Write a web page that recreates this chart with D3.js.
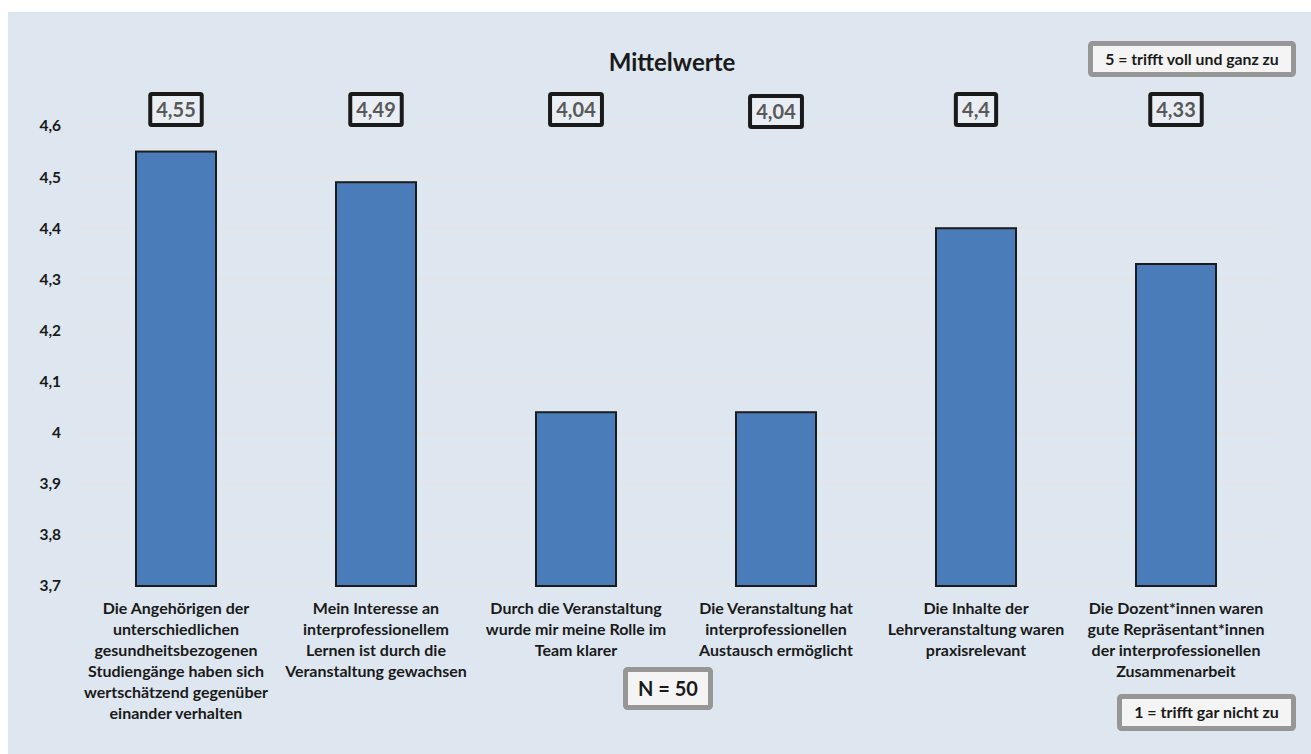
<!DOCTYPE html>
<html><head><meta charset="utf-8">
<script src="https://cdn.jsdelivr.net/npm/d3@7"></script>
<style>
html,body{margin:0;padding:0;background:#fff;}
svg{display:block;font-family:Lato,"Open Sans",sans-serif;}
</style></head>
<body>
<svg id="c" width="1311" height="754"></svg>
<script>
const categories = [
  ["Die Angehörigen der","unterschiedlichen","gesundheitsbezogenen","Studiengänge haben sich","wertschätzend gegenüber","einander verhalten"],
  ["Mein Interesse an","interprofessionellem","Lernen ist durch die","Veranstaltung gewachsen"],
  ["Durch die Veranstaltung","wurde mir meine Rolle im","Team klarer"],
  ["Die Veranstaltung hat","interprofessionellen","Austausch ermöglicht"],
  ["Die Inhalte der","Lehrveranstaltung waren","praxisrelevant"],
  ["Die Dozent*innen waren","gute Repräsentant*innen","der interprofessionellen","Zusammenarbeit"]
];
const values = [4.55, 4.49, 4.04, 4.04, 4.4, 4.33];
const yTicks = [3.7, 3.8, 3.9, 4.0, 4.1, 4.2, 4.3, 4.4, 4.5, 4.6];
const title = "Mittelwerte";
const noteTop = "5 = trifft voll und ganz zu";
const noteBottom = "1 = trifft gar nicht zu";
const noteN = "N = 50";

const de = d3.formatLocale({decimal:",", thousands:".", grouping:[3], currency:["","€"]});
const fmt = de.format("~r");

const svg = d3.select("#c");
svg.append("rect").attr("x",8).attr("y",12).attr("width",1303).attr("height",742).attr("fill","#dee7f0");

const idx = categories.map((d,i)=>i);
const x = d3.scaleBand().domain(idx).range([76,1276]).paddingInner(0.6).paddingOuter(0.3);
const y = d3.scaleLinear().domain([3.7,4.6]).range([586,126]);

// gridlines
svg.append("g").selectAll("line").data(yTicks).join("line")
  .attr("x1",76).attr("x2",1276)
  .attr("y1",d=>y(d)).attr("y2",d=>y(d))
  .attr("stroke","#e4e4e4").attr("stroke-width",1.5);

// y axis
const yAxis = d3.axisLeft(y).tickValues(yTicks).tickFormat(fmt).tickSize(0).tickPadding(0);
const gy = svg.append("g").attr("transform","translate(61,0)").call(yAxis);
gy.select(".domain").remove();
gy.selectAll("text").attr("font-size",15.5).attr("font-weight","bold").attr("fill","#1a1a1a").attr("font-family","Lato");

// bars
svg.append("g").selectAll("rect").data(values).join("rect")
  .attr("x",(d,i)=>x(i)).attr("width",x.bandwidth())
  .attr("y",d=>y(d)).attr("height",d=>y(3.7)-y(d))
  .attr("fill","#4a7cba").attr("stroke","#1c1c1c").attr("stroke-width",2);

// value labels
const lg = svg.append("g").selectAll("g").data(values).join("g")
  .attr("transform",(d,i)=>`translate(${x(i)+x.bandwidth()/2},${i===3?111.5:109.5})`);
lg.append("text").text(d=>fmt(d))
  .attr("text-anchor","middle").attr("dy","0.36em")
  .attr("font-size",20).attr("font-weight","bold").attr("fill","#595959")
  .each(function(){
    const bb=this.getBBox();
    d3.select(this.parentNode).insert("rect","text")
      .attr("x",-bb.width/2-6).attr("y",-15.5).attr("width",bb.width+12).attr("height",31)
      .attr("fill","#e8eef4").attr("stroke","#1a1a1a").attr("stroke-width",4).attr("rx",1.5);
  });

// category labels
const cg = svg.append("g").selectAll("text").data(categories).join("text")
  .attr("x",(d,i)=>x(i)+x.bandwidth()/2).attr("y",614)
  .attr("text-anchor","middle").attr("font-size",16).attr("font-weight","bold").attr("fill","#1a1a1a");
cg.selectAll("tspan").data(d=>d).join("tspan")
  .attr("x",function(){return this.parentNode.getAttribute("x");})
  .attr("dy",(d,i)=>i===0?0:20.9).text(d=>d);

// title
svg.append("text").attr("x",672).attr("y",71).attr("text-anchor","middle")
  .attr("font-size",24).attr("font-weight","bold").attr("fill","#1a1a1a").text(title);

// note boxes
function note(cx, cy, w, h, txt, fs){
  const g = svg.append("g");
  g.append("rect").attr("x",cx-w/2).attr("y",cy-h/2).attr("width",w).attr("height",h)
    .attr("fill","#f4f4f4").attr("stroke","#969696").attr("stroke-width",5).attr("rx",2);
  g.append("text").attr("x",cx).attr("y",cy).attr("dy","0.35em").attr("text-anchor","middle")
    .attr("font-size",fs).attr("font-weight","bold").attr("fill","#1a1a1a").text(txt);
}
note(1192,59,203,31,noteTop,15.8);
note(668,688.5,85,38,noteN,20);
note(1206.5,712.5,174,32,noteBottom,16);
</script>
</body></html>
